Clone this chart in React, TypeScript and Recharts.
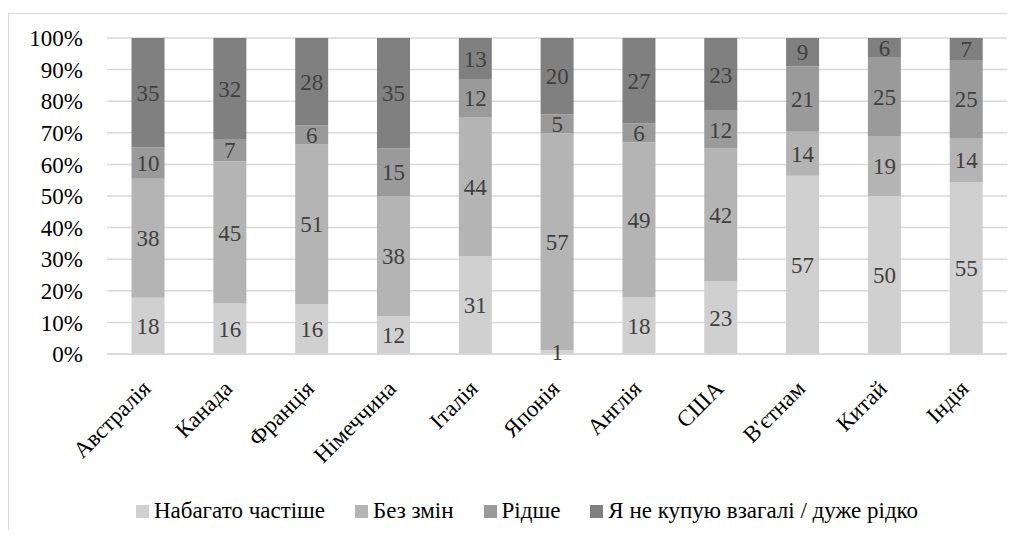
import React from "react";
import { BarChart, Bar, XAxis, YAxis, CartesianGrid, LabelList } from "recharts";

const countries = ["Австралія", "Канада", "Франція", "Німеччина", "Італія", "Японія", "Англія", "США", "В'єтнам", "Китай", "Індія"];
const muchMore = [18, 16, 16, 12, 31, 1, 18, 23, 57, 50, 55];
const noChange = [38, 45, 51, 38, 44, 57, 49, 42, 14, 19, 14];
const lessOften = [10, 7, 6, 15, 12, 5, 6, 12, 21, 25, 25];
const never = [35, 32, 28, 35, 13, 20, 27, 23, 9, 6, 7];
const yTicks = [0, 0.1, 0.2, 0.3, 0.4, 0.5, 0.6, 0.7, 0.8, 0.9, 1];

const seriesNames = ["Набагато частіше", "Без змін", "Рідше", "Я не купую взагалі / дуже рідко"];
const seriesColors = ["#d0d0d0", "#b4b4b4", "#9a9a9a", "#808080"];
const seriesKeys = ["muchMore", "noChange", "lessOften", "never"];

const data = countries.map((name, i) => ({
  name,
  muchMore: muchMore[i],
  noChange: noChange[i],
  lessOften: lessOften[i],
  never: never[i],
}));

const FONT = "Times New Roman, Liberation Serif, serif";

// підписи країн під кутом 45°
function CountryTick({ x, y, payload }: any) {
  return (
    <text
      x={x + 4}
      y={y + 28}
      transform={`rotate(-45, ${x + 4}, ${y + 28})`}
      textAnchor="end"
      fontFamily={FONT}
      fontSize={23}
      fill="#000"
    >
      {payload.value}
    </text>
  );
}

export default function App() {
  return (
    <div style={{ paddingTop: 5, fontFamily: FONT }}>
      <div style={{ position: "relative", borderTop: "1px solid #d9d9d9", borderLeft: "1px solid #d9d9d9", width: 998, height: 516, background: "#fff" }}>
        <BarChart
          width={998}
          height={516}
          data={data}
          stackOffset="expand"
          barCategoryGap="30%"
          margin={{ top: 24, right: 0, bottom: 0, left: 0 }}
          style={{ fontFamily: FONT }}
        >
          <CartesianGrid vertical={false} stroke="#d9d9d9" strokeWidth={1.5} />
          <XAxis
            dataKey="name"
            height={176}
            interval={0}
            tickLine={false}
            axisLine={{ stroke: "#d9d9d9", strokeWidth: 1.5 }}
            tick={<CountryTick />}
          />
          <YAxis
            width={98}
            ticks={yTicks}
            interval={0}
            domain={[0, 1]}
            tickFormatter={(v: number) => `${Math.round(v * 100)}%`}
            tickLine={false}
            axisLine={false}
            tickSize={0}
            tickMargin={24}
            tick={{ fontSize: 23, fontFamily: FONT, fill: "#000" }}
          />
          {seriesKeys.map((k, i) => (
            <Bar key={k} dataKey={k} name={seriesNames[i]} stackId="a" fill={seriesColors[i]} isAnimationActive={false}>
              <LabelList dataKey={k} position="center" fill="#404040" fontSize={23} fontFamily={FONT} />
            </Bar>
          ))}
        </BarChart>
        <div
          style={{
            position: "absolute",
            left: 28,
            width: 980,
            top: 484,
            display: "flex",
            justifyContent: "center",
            alignItems: "center",
            fontFamily: FONT,
            fontSize: 23,
            color: "#000",
          }}
        >
          {seriesNames.map((n, i) => (
            <div key={n} style={{ display: "flex", alignItems: "center", marginRight: i < 3 ? 30 : 0 }}>
              <span style={{ width: 13, height: 13, background: seriesColors[i], marginRight: 5, display: "inline-block" }} />
              <span>{n}</span>
            </div>
          ))}
        </div>
      </div>
    </div>
  );
}
